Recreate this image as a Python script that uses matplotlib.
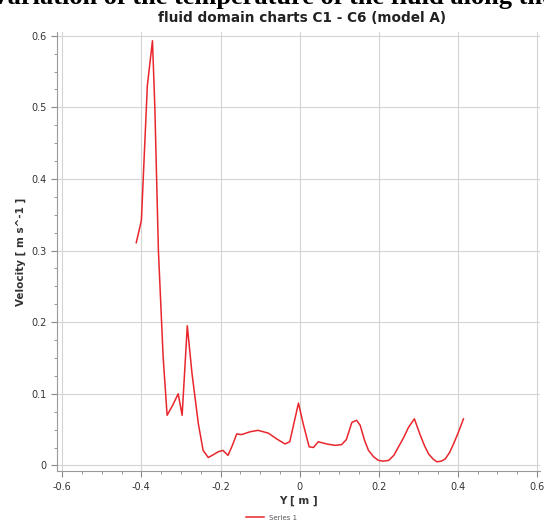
import numpy as np
import matplotlib
matplotlib.use('Agg')
import matplotlib.pyplot as plt
from matplotlib.ticker import MultipleLocator

# velocity profile
y_pos = [-0.413, -0.400, -0.385, -0.372, -0.366, -0.357, -0.345, -0.335, -0.320,
         -0.307, -0.297, -0.284, -0.272, -0.256, -0.244, -0.231, -0.218, -0.206,
         -0.194, -0.181, -0.170, -0.159, -0.147, -0.125, -0.105, -0.079, -0.058,
         -0.037, -0.025, -0.003, 0.009, 0.024, 0.035, 0.047, 0.068, 0.089, 0.106,
         0.118, 0.132, 0.144, 0.153, 0.164, 0.174, 0.187, 0.199, 0.212, 0.225,
         0.238, 0.250, 0.263, 0.275, 0.290, 0.305, 0.316, 0.326, 0.337, 0.347,
         0.358, 0.368, 0.379, 0.389, 0.401, 0.414]
velocity = [0.311, 0.342, 0.53, 0.593, 0.50, 0.30, 0.151, 0.070, 0.085,
            0.100, 0.070, 0.195, 0.128, 0.058, 0.021, 0.011, 0.015, 0.019,
            0.021, 0.014, 0.028, 0.044, 0.043, 0.047, 0.049, 0.045, 0.037,
            0.030, 0.033, 0.087, 0.058, 0.026, 0.025, 0.033, 0.030, 0.028, 0.029,
            0.036, 0.060, 0.063, 0.056, 0.035, 0.021, 0.012, 0.007, 0.006, 0.007,
            0.014, 0.026, 0.039, 0.053, 0.065, 0.042, 0.027, 0.016, 0.009, 0.005,
            0.006, 0.009, 0.018, 0.030, 0.046, 0.065]

x_ticks = [-0.6, -0.4, -0.2, 0, 0.2, 0.4, 0.6]
y_ticks = [0, 0.1, 0.2, 0.3, 0.4, 0.5, 0.6]

fig = plt.figure(figsize=(5.44, 5.27), dpi=100)
ax = fig.add_axes([0.105, 0.106, 0.888, 0.833])

ax.plot(y_pos, velocity, color='#e8262c', lw=1.1, label='Series 1')

ax.set_xlim(-0.613, 0.608)
ax.set_ylim(-0.008, 0.605)
ax.set_xticks(x_ticks)
ax.set_xticklabels(['-0.6', '-0.4', '-0.2', '0', '0.2', '0.4', '0.6'])
ax.set_yticks(y_ticks)
ax.set_yticklabels(['0', '0.1', '0.2', '0.3', '0.4', '0.5', '0.6'])
ax.xaxis.set_minor_locator(MultipleLocator(0.05))
ax.yaxis.set_minor_locator(MultipleLocator(0.025))
ax.tick_params(which='both', colors='#888888', labelcolor='#333333', labelsize=7)
ax.tick_params(which='major', length=4)
ax.tick_params(which='minor', length=2)
ax.grid(True, which='major', color='#d4d4d4', lw=0.8)
for s in ['top', 'right']:
    ax.spines[s].set_visible(False)
for s in ['left', 'bottom']:
    ax.spines[s].set_color('#999999')

ax.set_xlabel('Y [ m ]', fontsize=7.5, fontweight='bold', color='#333333', labelpad=3)
ax.set_ylabel('Velocity [ m s^-1 ]', fontsize=7.5, fontweight='bold', color='#333333', labelpad=4)
fig.text(0.555, 0.965, 'fluid domain charts C1 - C6 (model A)', ha='center', va='center',
         fontsize=9.8, fontweight='bold', color='#222222')

# heading of the page above the chart, cropped at the top like the source
fig.text(0.5, 0.992, 'Variation of the temperature of the fluid along the',
         ha='center', va='baseline', fontsize=19, fontweight='bold',
         family='Liberation Serif', color='black')

leg = fig.legend(loc='lower center', bbox_to_anchor=(0.5, 0.0), frameon=False,
                 fontsize=5, handlelength=2.5, labelcolor='#555555')

fig.savefig('out.png', dpi=100)
